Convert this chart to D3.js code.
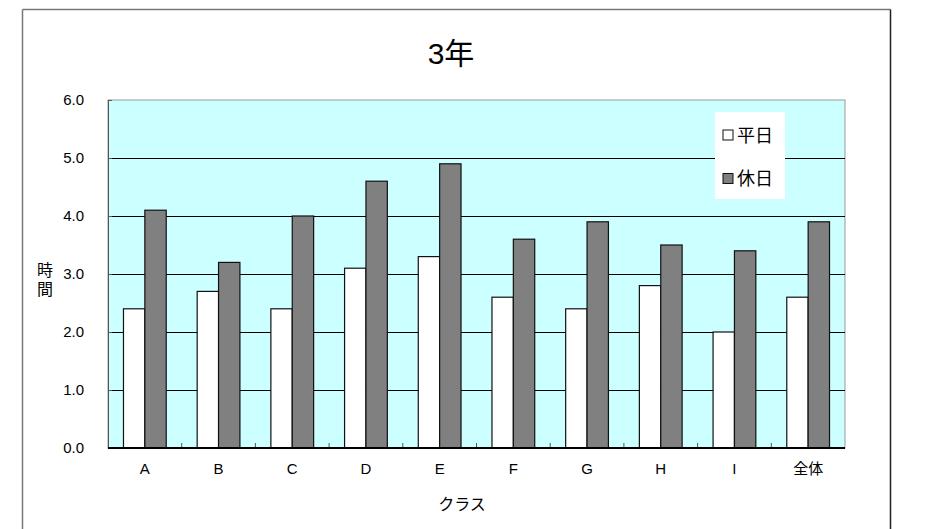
<!DOCTYPE html>
<html>
<head>
<meta charset="utf-8">
<script src="https://cdn.jsdelivr.net/npm/d3@7"></script>
<style>
  body { margin: 0; background: #fff; }
  svg text { font-family: "Liberation Sans", Arial, "Noto Sans CJK JP", sans-serif; fill: #000; }
</style>
</head>
<body>
<svg id="chart" width="929" height="529"></svg>
<script>
try {

// data
var classes = ["A", "B", "C", "D", "E", "F", "G", "H", "I", "全体"];
var weekday = [2.4, 2.7, 2.4, 3.1, 3.3, 2.6, 2.4, 2.8, 2.0, 2.6];
var holiday = [4.1, 3.2, 4.0, 4.6, 4.9, 3.6, 3.9, 3.5, 3.4, 3.9];
var seriesNames = ["平日", "休日"];
var yTicks = [0, 1, 2, 3, 4, 5, 6];

var svg = d3.select("#chart");

/* ===== frame ===== */
svg.append("line").attr("x1", 22.5).attr("y1", 9.5).attr("x2", 22.5).attr("y2", 529)
  .attr("stroke", "#777").attr("stroke-width", 1.5);
svg.append("line").attr("x1", 22.5).attr("y1", 9.5).attr("x2", 890.5).attr("y2", 9.5)
  .attr("stroke", "#777").attr("stroke-width", 1.5);
svg.append("line").attr("x1", 890.5).attr("y1", 9.5).attr("x2", 890.5).attr("y2", 529)
  .attr("stroke", "#222").attr("stroke-width", 1.5);

/* ===== plot area ===== */
var plot = { left: 108, top: 100, right: 845, bottom: 448 };

var x = d3.scaleBand()
  .domain(classes)
  .range([plot.left, plot.right])
  .paddingInner(0.42)
  .paddingOuter(0.21);

var xSub = d3.scaleBand()
  .domain(seriesNames)
  .range([0, x.bandwidth()]);

var y = d3.scaleLinear()
  .domain([0, 6])
  .range([plot.bottom, plot.top]);

svg.append("rect")
  .attr("x", plot.left).attr("y", plot.top)
  .attr("width", plot.right - plot.left).attr("height", plot.bottom - plot.top)
  .attr("fill", "#ccffff").attr("stroke", "#999").attr("stroke-width", 1);

// gridlines
svg.append("g").selectAll("line")
  .data(yTicks.filter(function(d){ return d > 0 && d < 6; }))
  .join("line")
  .attr("x1", plot.left).attr("x2", plot.right)
  .attr("y1", function(d){ return Math.round(y(d)) + 0.5; })
  .attr("y2", function(d){ return Math.round(y(d)) + 0.5; })
  .attr("stroke", "#000").attr("stroke-width", 1);

// bars
var groups = svg.append("g").selectAll("g")
  .data(classes)
  .join("g")
  .attr("transform", function(d){ return "translate(" + x(d) + ",0)"; });

groups.append("rect")
  .attr("x", xSub("平日"))
  .attr("y", function(d, i){ return y(weekday[i]); })
  .attr("width", xSub.bandwidth())
  .attr("height", function(d, i){ return y(0) - y(weekday[i]); })
  .attr("fill", "#fff").attr("stroke", "#111").attr("stroke-width", 1.2);

groups.append("rect")
  .attr("x", xSub("休日"))
  .attr("y", function(d, i){ return y(holiday[i]); })
  .attr("width", xSub.bandwidth())
  .attr("height", function(d, i){ return y(0) - y(holiday[i]); })
  .attr("fill", "#808080").attr("stroke", "#111").attr("stroke-width", 1.2);

/* ===== axes ===== */
var yAxis = d3.axisLeft(y)
  .tickValues(yTicks)
  .tickFormat(d3.format(".1f"))
  .tickSizeInner(-4)
  .tickSizeOuter(0)
  .tickPadding(24);

var yg = svg.append("g").attr("transform", "translate(" + plot.left + ",0)").call(yAxis);
yg.select(".domain").attr("stroke", "#555");
yg.selectAll(".tick line").attr("stroke", "#555");
yg.selectAll("text").attr("font-size", 15).attr("fill", "#000");

var xAxis = d3.axisBottom(x).tickSize(0).tickPadding(15);
var xg = svg.append("g").attr("transform", "translate(0," + plot.bottom + ")").call(xAxis);
xg.select(".domain").remove();
xg.selectAll("text").attr("font-size", 15).attr("fill", "#000");

// small category separators pointing up from the base
svg.append("g").selectAll("line")
  .data(classes.slice(1))
  .join("line")
  .attr("x1", function(d){ return x(d) - x.step() * x.paddingInner() / 2; })
  .attr("x2", function(d){ return x(d) - x.step() * x.paddingInner() / 2; })
  .attr("y1", plot.bottom).attr("y2", plot.bottom - 5)
  .attr("stroke", "#555");

svg.append("line")
  .attr("x1", plot.left).attr("x2", plot.right)
  .attr("y1", plot.bottom).attr("y2", plot.bottom)
  .attr("stroke", "#000").attr("stroke-width", 2);

/* ===== titles ===== */
svg.append("text")
  .attr("x", 451).attr("y", 64)
  .attr("text-anchor", "middle")
  .attr("font-size", 30)
  .text("3年");

svg.append("text")
  .attr("x", 462).attr("y", 510)
  .attr("text-anchor", "middle")
  .attr("font-size", 16)
  .text("クラス");

svg.append("text")
  .attr("x", 45).attr("y", 276)
  .attr("text-anchor", "middle")
  .attr("font-size", 16)
  .text("時");
svg.append("text")
  .attr("x", 45).attr("y", 295)
  .attr("text-anchor", "middle")
  .attr("font-size", 16)
  .text("間");

/* ===== legend ===== */
var legend = svg.append("g");
legend.append("rect")
  .attr("x", 715).attr("y", 112).attr("width", 70).attr("height", 87)
  .attr("fill", "#fff");

var legendFill = ["#fff", "#808080"];
var items = legend.selectAll("g")
  .data(seriesNames)
  .join("g")
  .attr("transform", function(d, i){ return "translate(723," + (135 + i * 43.5) + ")"; });

items.append("rect")
  .attr("x", 0).attr("y", -5).attr("width", 10).attr("height", 10)
  .attr("fill", function(d, i){ return legendFill[i]; })
  .attr("stroke", "#111").attr("stroke-width", 1);

items.append("text")
  .attr("x", 14).attr("y", 6.5)
  .attr("font-size", 18)
  .text(function(d){ return d; });

} catch (e) {
  console.log(e);
}
</script>
</body>
</html>
